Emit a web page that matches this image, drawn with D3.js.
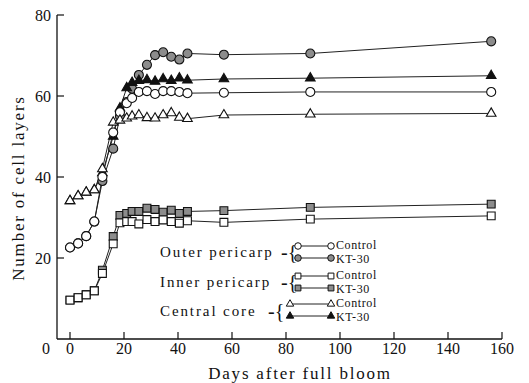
<!DOCTYPE html>
<html>
<head>
<meta charset="utf-8">
<script src="https://cdn.jsdelivr.net/npm/d3@7"></script>
<style>
  body { margin: 0; background: #fff; }
  text { font-family: "Liberation Serif", "DejaVu Serif", serif; fill: #111; }
</style>
</head>
<body>
<div id="chart"></div>
<script>
// Days after full bloom (sampling dates)
const days = [0, 3, 6, 9, 12, 16, 18.5, 21, 23, 25.5, 28.5, 31.5, 34.5, 37.5, 40.5, 43.5, 57, 89, 156];

// Number of cell layers
const outerControl = [22.6, 23.6, 25.4, 29, 40, 51, 56, 58.2, 59.5, 61, 61.2, 60.5, 61.2, 61.2, 61, 60.7, 60.8, 61, 61];
const outerKT30    = [22.6, 23.6, 25.4, 29, 39, 47, 55, 58.5, 61.8, 65.2, 67.7, 70.1, 70.8, 69.7, 69, 70.5, 70.2, 70.5, 73.5];
const innerControl = [9.6, 10.2, 10.9, 11.9, 16.2, 23.5, 28.7, 29, 29, 28.4, 29.5, 29, 29.4, 29, 28.6, 29.2, 28.8, 29.6, 30.4];
const innerKT30    = [9.6, 10.2, 10.9, 11.9, 17, 25.3, 30.5, 31, 31.5, 31.5, 32.3, 32, 31.3, 31.8, 31, 31.5, 31.7, 32.5, 33.3];
const coreControl  = [34.1, 35.3, 36.2, 36.8, 42, 53.5, 54, 54.5, 55, 55.3, 54.6, 54.5, 55.3, 55.8, 54.7, 54.4, 55.3, 55.5, 55.7];
const coreKT30     = [34.1, 35.3, 36.2, 36.8, 41, 50, 57, 62, 63.3, 63.8, 64, 63.6, 64.2, 63.8, 64.4, 63.9, 64.2, 64.4, 65];

const xTicks = [0, 20, 40, 60, 80, 100, 120, 140, 160];
const yTicks = [20, 40, 60, 80];

const width = 529, height = 383;

const svg = d3.select("#chart").append("svg")
  .attr("width", width)
  .attr("height", height);

const x = d3.scaleLinear().domain([0, 160]).range([70, 502]);
const y = d3.scaleLinear().domain([0, 80]).range([339, 15]);

// series: drawn KT-30 first so control markers sit on top where they overlap
const series = [
  { values: outerKT30, shape: d3.symbolCircle, size: 64, fill: "#8c8c8c" },
  { values: innerKT30, shape: d3.symbolSquare, size: 62, fill: "#8c8c8c" },
  { values: coreKT30, shape: d3.symbolTriangle, size: 40, fill: "#111" },
  { values: outerControl, shape: d3.symbolCircle, size: 64, fill: "#fff" },
  { values: innerControl, shape: d3.symbolSquare, size: 62, fill: "#fff" },
  { values: coreControl, shape: d3.symbolTriangle, size: 40, fill: "#fff" }
];

// axes
const axisColor = "#111";
svg.append("line")
  .attr("x1", 57).attr("x2", 57)
  .attr("y1", y(80)).attr("y2", y(0))
  .attr("stroke", axisColor).attr("stroke-width", 1.3);
svg.append("line")
  .attr("x1", 57).attr("x2", x(160))
  .attr("y1", y(0)).attr("y2", y(0))
  .attr("stroke", axisColor).attr("stroke-width", 1.3);

yTicks.forEach(t => {
  svg.append("line")
    .attr("x1", 57).attr("x2", 64)
    .attr("y1", y(t)).attr("y2", y(t))
    .attr("stroke", axisColor).attr("stroke-width", 1.2);
  svg.append("text")
    .attr("x", 51).attr("y", y(t) + 6)
    .attr("text-anchor", "end")
    .style("font-size", "16px")
    .text(t);
});
svg.append("text")
  .attr("x", 50).attr("y", 354)
  .attr("text-anchor", "end")
  .style("font-size", "16px")
  .text(0);

xTicks.forEach(t => {
  svg.append("line")
    .attr("x1", x(t)).attr("x2", x(t))
    .attr("y1", y(0)).attr("y2", y(0) - 7)
    .attr("stroke", axisColor).attr("stroke-width", 1.2);
  svg.append("text")
    .attr("x", x(t)).attr("y", 354)
    .attr("text-anchor", "middle")
    .style("font-size", "16px")
    .text(t);
});

// axis labels
svg.append("text")
  .attr("x", 300).attr("y", 379)
  .attr("text-anchor", "middle")
  .style("font-size", "17px")
  .style("letter-spacing", "1.8px")
  .text("Days after full bloom");

svg.append("text")
  .attr("transform", "rotate(-90)")
  .attr("x", -188).attr("y", 24)
  .attr("text-anchor", "middle")
  .style("font-size", "17px")
  .style("letter-spacing", "1.8px")
  .text("Number of cell layers");

// lines
const line = d3.line()
  .x((d, i) => x(days[i]))
  .y(d => y(d));

series.forEach(s => {
  svg.append("path")
    .datum(s.values)
    .attr("fill", "none")
    .attr("stroke", "#222")
    .attr("stroke-width", 1)
    .attr("d", line);
});

// markers
series.forEach(s => {
  svg.selectAll(null)
    .data(s.values)
    .enter()
    .append("path")
    .attr("d", d3.symbol().type(s.shape).size(s.size))
    .attr("transform", (d, i) => `translate(${x(days[i])},${y(d)})`)
    .attr("fill", s.fill)
    .attr("stroke", "#111")
    .attr("stroke-width", 1.1);
});

// legend
const legendRows = [
  { name: "Outer pericarp", ty: 257, bx: 281, mx: 298, rows: [
      { y: 246, shape: d3.symbolCircle, size: 34, fill: "#fff", label: "Control" },
      { y: 258, shape: d3.symbolCircle, size: 34, fill: "#8c8c8c", label: "KT-30" }] },
  { name: "Inner pericarp", ty: 287, bx: 281, mx: 298, rows: [
      { y: 276, shape: d3.symbolSquare, size: 34, fill: "#fff", label: "Control" },
      { y: 288, shape: d3.symbolSquare, size: 34, fill: "#8c8c8c", label: "KT-30" }] },
  { name: "Central core", ty: 316, bx: 268, mx: 290, rows: [
      { y: 304, shape: d3.symbolTriangle, size: 24, fill: "#fff", label: "Control" },
      { y: 316, shape: d3.symbolTriangle, size: 24, fill: "#111", label: "KT-30" }] }
];

const legend = svg.append("g");
legendRows.forEach(g => {
  legend.append("text")
    .attr("x", 160).attr("y", g.ty)
    .style("font-size", "15px")
    .style("letter-spacing", "1.9px")
    .text(g.name);
  legend.append("text")
    .attr("x", g.bx).attr("y", g.ty + 2)
    .style("font-size", "20px")
    .text("-{");
  g.rows.forEach((r, k) => {
    legend.append("line")
      .attr("x1", g.mx).attr("x2", 331)
      .attr("y1", r.y).attr("y2", r.y)
      .attr("stroke", "#222").attr("stroke-width", 1);
    [g.mx, 331].forEach(px => {
      legend.append("path")
        .attr("d", d3.symbol().type(r.shape).size(r.size))
        .attr("transform", `translate(${px},${r.y})`)
        .attr("fill", r.fill)
        .attr("stroke", "#111")
        .attr("stroke-width", 1);
    });
    legend.append("text")
      .attr("x", 336).attr("y", r.y + (k === 0 ? 3 : 5))
      .style("font-size", "12px")
      .style("letter-spacing", "0.6px")
      .text(r.label);
  });
});
</script>
</body>
</html>
